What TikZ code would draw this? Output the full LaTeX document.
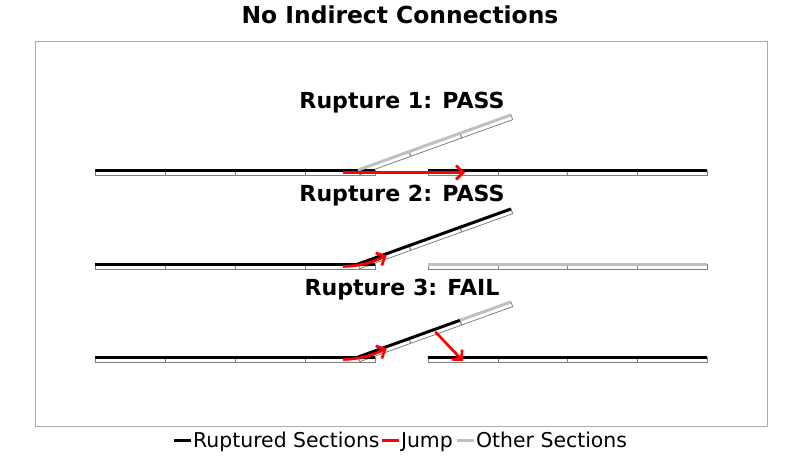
\documentclass[tikz,border=0pt]{standalone}
\usepackage{fontspec}
\setmainfont{DejaVu Sans}
\usetikzlibrary{arrows.meta,calc}
\definecolor{othergray}{RGB}{192,192,192}
\definecolor{outlinegray}{RGB}{128,128,128}
\definecolor{framegray}{RGB}{170,170,170}
\definecolor{jumpred}{RGB}{255,0,0}
\tikzset{
  sub/.style={draw=outlinegray, line width=0.8pt},
  rupt/.style={line width=3pt, black},
  other/.style={line width=3pt, othergray},
  jump/.style={line width=2.7pt, jumpred, -{Straight Barb[length=7pt,width=14pt]}},
  ttl/.style={font=\bfseries\fontsize{23.4}{28}\selectfont, anchor=base, inner sep=0pt},
  rtitle/.style={font=\bfseries\fontsize{22.1}{26}\selectfont, anchor=base, inner sep=0pt},
  legtext/.style={font=\fontsize{20.4}{24}\selectfont, anchor=base west, inner sep=0pt},
}
\begin{document}
\begin{tikzpicture}[x=1pt,y=-1pt]
\useasboundingbox (0,0) rectangle (800,456);
\draw[framegray, line width=1pt] (35,41) rectangle (767,426);
\node[ttl] (title) at (400,23) {No Indirect Connections};

% ---------- generic trace outlines ----------
\foreach \yy in {170,264,357}{
  \foreach \a in {95,165,235,305} \draw[sub] (\a,\yy) rectangle ++(70,5);
  \foreach \a/\b in {428/498,498/567,567/637,637/707} \draw[sub] (\a,\yy) rectangle (\b,\yy+5);
  \begin{scope}[shift={(358,\yy)}, rotate=19.8]
    \foreach \i in {0,1,2} \draw[sub] (\i*54.2,0) rectangle ++(54.2,5);
  \end{scope}
}

% ---------- Rupture 1 ----------
\node[rtitle] (t1) at (402,108) {Rupture 1: PASS};
\coordinate (L1a) at (95,170); \coordinate (L1b) at (375,170);
\coordinate (R1a) at (428,170); \coordinate (R1b) at (707,170);
\coordinate (L1c) at (343,172.5); \coordinate (R1c) at (465,172.5);
\begin{scope}[shift={(358,170)}, rotate=19.8]
  \coordinate (B1a) at (0,0); \coordinate (B1b) at (162.6,0);
\end{scope}
\draw[rupt] (L1a) -- (L1b);
\draw[rupt] (R1a) -- (R1b);
\draw[other] (B1a) -- (B1b);
\draw[jump] (L1c) -- (R1c);

% ---------- Rupture 2 ----------
\node[rtitle] (t2) at (402,201) {Rupture 2: PASS};
\coordinate (L2a) at (95,264); \coordinate (L2b) at (375,264);
\coordinate (R2a) at (428,264); \coordinate (R2b) at (707,264);
\coordinate (L2c) at (343,266.5);
\begin{scope}[shift={(358,264)}, rotate=19.8]
  \coordinate (B2a) at (0,0); \coordinate (B2b) at (162.6,0);
  \coordinate (B2c) at (30,1.5);
\end{scope}
\draw[rupt] (L2a) -- (L2b);
\draw[other] (R2a) -- (R2b);
\draw[rupt] (B2a) -- (B2b);
\draw[jump] (L2c) to[bend right=12] (B2c);

% ---------- Rupture 3 ----------
\node[rtitle] (t3) at (402,295) {Rupture 3: FAIL};
\coordinate (L3a) at (95,357); \coordinate (L3b) at (375,357);
\coordinate (R3a) at (428,357); \coordinate (R3b) at (707,357);
\coordinate (L3c) at (343,359.5); \coordinate (R3c) at (463,361);
\begin{scope}[shift={(358,357)}, rotate=19.8]
  \coordinate (B3a) at (0,0); \coordinate (B3m) at (108.4,0); \coordinate (B3b) at (162.6,0);
  \coordinate (B3c) at (30,1.5); \coordinate (B3d) at (81.3,2.5);
\end{scope}
\draw[rupt] (L3a) -- (L3b);
\draw[rupt] (R3a) -- (R3b);
\draw[rupt] (B3a) -- (B3m);
\draw[other] (B3m) -- (B3b);
\draw[jump] (L3c) to[bend right=12] (B3c);
\draw[jump] (B3d) -- (R3c);

% ---------- Legend ----------
\coordinate (G1a) at (174,440); \coordinate (G1b) at (191,440);
\draw[rupt] (G1a) -- (G1b);
\node[legtext] (lg1) at (193,447) {Ruptured Sections};
\coordinate (G2a) at ($(lg1.base east)+(2,-7)$); \coordinate (G2b) at ($(G2a)+(17,0)$);
\draw[line width=3pt, jumpred] (G2a) -- (G2b);
\node[legtext] (lg2) at ($(G2b)+(2,7)$) {Jump};
\coordinate (G3a) at ($(lg2.base east)+(4,-7)$); \coordinate (G3b) at ($(G3a)+(17,0)$);
\draw[other] (G3a) -- (G3b);
\node[legtext] (lg3) at ($(G3b)+(2,7)$) {Other Sections};
\end{tikzpicture}
\end{document}
